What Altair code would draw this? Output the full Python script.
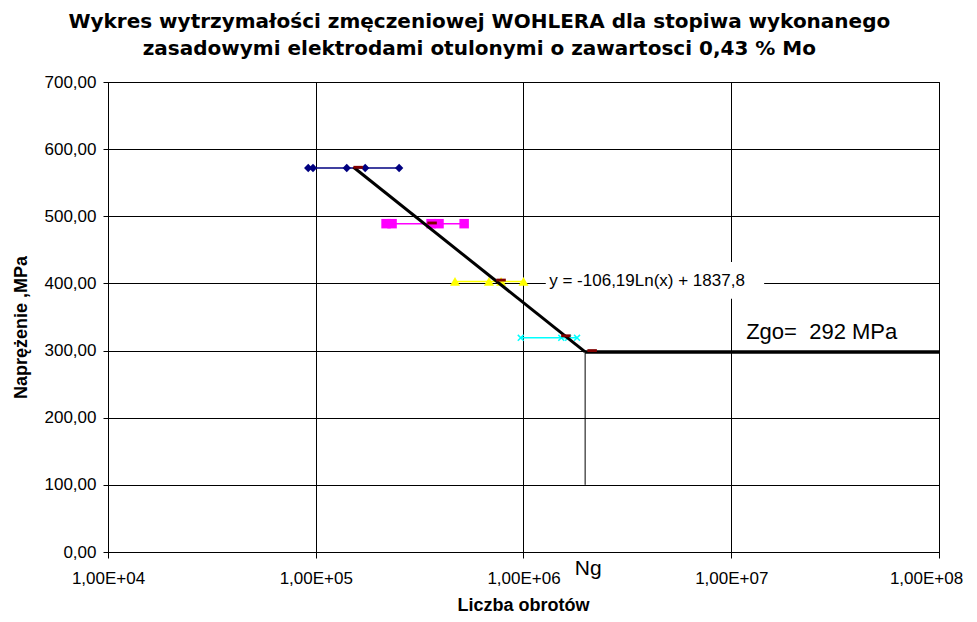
import altair as alt
import pandas as pd

# ---- data ----
# blue diamonds, stress level ~572 MPa
n_blue = [9.2e4, 9.7e4, 1.41e5, 1.73e5, 2.52e5]
s_blue = [572, 572, 572, 572, 572]
# magenta squares, ~489 MPa
n_mag = [2.18e5, 2.33e5, 3.59e5, 3.92e5, 5.18e5]
s_mag = [489, 489, 489, 489, 489]
# yellow triangles, ~403 MPa
n_yel = [4.68e5, 6.82e5, 7.8e5, 1.0e6]
s_yel = [403, 403, 403, 403]
# cyan crosses, ~319 MPa
n_cyan = [9.7e5, 1.52e6, 1.64e6, 1.81e6]
s_cyan = [319, 319, 319, 319]
# dark red mean markers
n_mean = [1.6e5, 3.63e5, 7.8e5, 1.6e6, 2.14e6]
s_mean = [573, 490, 405, 322, 300]
# trend line endpoints and fatigue limit line
n_trend = [1.52e5, 1.98e6]
s_trend = [573, 298]
n_limit = [1.98e6, 1.0e8]
s_limit = [298, 298]
n_ng = [1.98e6, 1.98e6]
s_ng = [100, 298]

x_ticks = [1e4, 1e5, 1e6, 1e7, 1e8]
y_ticks = [0, 100, 200, 300, 400, 500, 600, 700]

title_lines = ["Wykres wytrzymałości zmęczeniowej WOHLERA dla stopiwa wykonanego",
               "zasadowymi elektrodami otulonymi o zawartosci 0,43 % Mo"]
eq_text = "y = -106,19Ln(x) + 1837,8"
eq_pos = (1.33e6, 403)
eq_box = (1.28e6, 1.44e7, 377, 432)
zgo_text = "Zgo=\u00a0\u00a0292 MPa"
zgo_pos = (1.18e7, 328)
ng_text = "Ng"
ng_pos = (2.05e6, -25)

FONT = "Liberation Sans"

xscale = alt.Scale(type="log", domain=[1e4, 1e8])
yscale = alt.Scale(domain=[0, 700])

xaxis = alt.Axis(values=x_ticks, labelExpr="'1,00E+0' + format(log(datum.value)/LN10, '.0f')",
                 title="Liczba obrotów", grid=True, titleX=415, titleY=58,
                 titleBaseline="alphabetic", labelPadding=12, tickSize=6,
                 labelFlush=False,
                 labelOffset={"condition": {"test": "datum.value >= 1e8", "value": -13}, "value": 0})
yaxis = alt.Axis(values=y_ticks, labelExpr="replace(format(datum.value, '.2f'), '.', ',')",
                 title="Naprężenie ,MPa", grid=True, titleX=-87, titleY=245,
                 titleAngle=-90, titleAlign="center", titleBaseline="middle",
                 labelPadding=7, tickSize=5)


def xy(n, s):
    return pd.DataFrame({"n": n, "s": s})


X = alt.X("n:Q", scale=xscale, axis=xaxis)
Y = alt.Y("s:Q", scale=yscale, axis=yaxis)
Xn = alt.X("n:Q", scale=xscale)
Yn = alt.Y("s:Q", scale=yscale)

base = alt.Chart(xy(n_blue, s_blue)).mark_line(color="#000080", strokeWidth=1.5).encode(x=X, y=Y)
blue_pts = alt.Chart(xy(n_blue, s_blue)).mark_point(shape="diamond", filled=True, color="#000080",
                                                    size=70, opacity=1).encode(x=Xn, y=Yn)

mag_line = alt.Chart(xy(n_mag, s_mag)).mark_line(color="#FF00FF", strokeWidth=1.5).encode(x=Xn, y=Yn)
mag_pts = alt.Chart(xy(n_mag, s_mag)).mark_point(shape="square", filled=True, color="#FF00FF",
                                                 size=90, opacity=1).encode(x=Xn, y=Yn)

yel_line = alt.Chart(xy(n_yel, s_yel)).mark_line(color="#FFFF00", strokeWidth=1.5).encode(x=Xn, y=Yn)
yel_pts = alt.Chart(xy(n_yel, s_yel)).mark_point(shape="triangle-up", filled=True, color="#FFFF00",
                                                 size=100, opacity=1).encode(x=Xn, y=Yn)

cyan_line = alt.Chart(xy(n_cyan, s_cyan)).mark_line(color="#00FFFF", strokeWidth=1.5).encode(x=Xn, y=Yn)
cyan_pts = alt.Chart(xy(n_cyan, s_cyan)).mark_point(shape="M-1,-1L1,1M-1,1L1,-1", filled=False,
                                                    color="#00FFFF", size=35, strokeWidth=1.5,
                                                    opacity=1).encode(x=Xn, y=Yn)

mean_pts = alt.Chart(xy(n_mean, s_mean)).mark_point(shape="M-1,-0.3H1V0.3H-1Z", filled=True,
                                                    color="#800000", size=90, opacity=1).encode(x=Xn, y=Yn)

trend = alt.Chart(xy(n_trend, s_trend)).mark_line(color="black", strokeWidth=3).encode(x=Xn, y=Yn)
limit = alt.Chart(xy(n_limit, s_limit)).mark_line(color="black", strokeWidth=3.5).encode(x=Xn, y=Yn)
ng_line = alt.Chart(xy(n_ng, s_ng)).mark_line(color="black", strokeWidth=1).encode(x=Xn, y=Yn)

box_df = pd.DataFrame({"x1": [eq_box[0]], "x2": [eq_box[1]], "y1": [eq_box[2]], "y2": [eq_box[3]]})
eq_bg = alt.Chart(box_df).mark_rect(color="white").encode(
    x=alt.X("x1:Q", scale=xscale), x2="x2:Q", y=alt.Y("y1:Q", scale=yscale), y2="y2:Q")

lab_df = pd.DataFrame({"n": [eq_pos[0], zgo_pos[0], ng_pos[0]],
                       "s": [eq_pos[1], zgo_pos[1], ng_pos[1]],
                       "t": [eq_text, zgo_text, ng_text]})
eq_lab = alt.Chart(lab_df.iloc[[0]]).mark_text(align="left", baseline="middle", font=FONT,
                                               fontSize=17, color="black").encode(x=Xn, y=Yn, text="t:N")
zgo_lab = alt.Chart(lab_df.iloc[[1]]).mark_text(align="left", baseline="middle", font=FONT,
                                                fontSize=22, color="black").encode(x=Xn, y=Yn, text="t:N")
ng_lab = alt.Chart(lab_df.iloc[[2]]).mark_text(align="center", baseline="middle", font=FONT,
                                               fontSize=21, color="black").encode(x=Xn, y=Yn, text="t:N")

chart = alt.layer(
    base, eq_bg, ng_line, blue_pts, mag_line, mag_pts, yel_line, yel_pts,
    cyan_line, cyan_pts, trend, limit, mean_pts, eq_lab, zgo_lab, ng_lab
).properties(
    width=831, height=470,
    background="white",
    title=alt.TitleParams(text=title_lines, anchor="middle", frame="bounds",
                          font="DejaVu Sans", fontSize=20, fontWeight="bold",
                          color="black", lineHeight=27, offset=14, dx=-8),
    padding={"left": 100, "top": 74, "right": 30, "bottom": 62},
    autosize=alt.AutoSizeParams(type="none"),
).configure_view(
    stroke="black", strokeWidth=1
).configure_axis(
    gridColor="black", gridWidth=1, gridOpacity=1,
    domainColor="black", tickColor="black", domainWidth=1,
    labelFont=FONT, labelFontSize=17, labelColor="black",
    titleFont=FONT, titleFontSize=18, titleFontWeight="bold", titleColor="black",
)

chart.save("out.html", embed_options={"renderer": "svg", "actions": False})
